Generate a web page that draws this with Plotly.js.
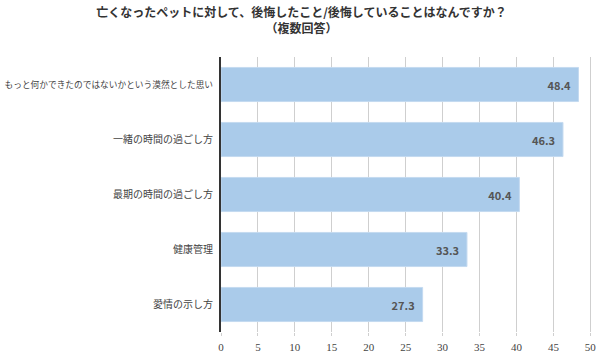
<!DOCTYPE html>
<html><head><meta charset="utf-8">
<script src="https://cdn.plot.ly/plotly-3.0.1.min.js"></script>
<style>html,body{margin:0;padding:0;background:#fff}#c{width:603px;height:362px}</style>
</head><body><div id="c"></div>
<script>
const categories = ["もっと何かできたのではないかという漠然とした思い","一緒の時間の過ごし方","最期の時間の過ごし方","健康管理","愛情の示し方"];
const values = [48.4, 46.3, 40.4, 33.3, 27.3];
const tickVals = [0,5,10,15,20,25,30,35,40,45,50];

const trace = {
  type: 'bar', orientation: 'h',
  y: categories, x: values,
  marker: {color: '#aacbea', line: {color: '#c4daf0', width: 1}},
  text: values.map(v => v.toFixed(1) + '\u00a0\u00a0'),
  textposition: 'inside', insidetextanchor: 'end',
  textfont: {family: 'Noto Sans CJK JP, sans-serif', size: 11, color: '#555', weight: 'bold'},
  hoverinfo: 'none', cliponaxis: false
};
const layout = {
  width: 603, height: 362,
  margin: {l: 221, r: 9, t: 57, b: 30},
  paper_bgcolor: '#fff', plot_bgcolor: '#fff',
  bargap: 0.38,
  showlegend: false,
  title: {
    text: '<b>亡くなったペットに対して、後悔したこと/後悔していることはなんですか？</b><br><b>（複数回答）</b>',
    x: 0.5, xanchor: 'center', y: 0.952, yanchor: 'top',
    font: {family: 'Noto Sans CJK JP, sans-serif', size: 12, color: '#333'}
  },
  xaxis: {
    range: [0, 50.5], tickvals: tickVals, ticktext: tickVals.map(String),
    showgrid: true, gridcolor: '#cfcfcf', gridwidth: 1,
    zeroline: false, showline: false,
    ticks: 'outside', ticklen: 3, tickcolor: '#cfcfcf',
    tickfont: {family: 'Liberation Serif, serif', size: 11, color: '#444'},
    ticklabelstandoff: 2,
    fixedrange: true
  },
  yaxis: {
    autorange: 'reversed', showline: true, linecolor: '#333', linewidth: 2,
    showgrid: false, ticks: '', ticklen: 0,
    tickvals: categories,
    ticktext: categories.map((c, i) => i === 0 ? '<span style="font-size:8.7px">' + c + '</span>' : c),
    tickfont: {family: 'Noto Sans CJK JP, sans-serif', size: 10, color: '#444'},
    ticklabelstandoff: 4,
    fixedrange: true
  }
};
Plotly.newPlot('c', [trace], layout, {displayModeBar: false, staticPlot: true});
</script></body></html>
